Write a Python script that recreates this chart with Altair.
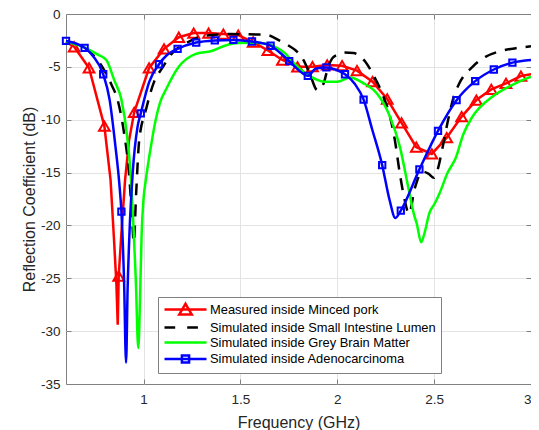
import altair as alt
import pandas as pd

# ---------------- data ----------------
names = [
    "Measured inside Minced pork",
    "Simulated inside Small Intestine Lumen",
    "Simulated inside Grey Brain Matter",
    "Simulated inside Adenocarcinoma",
]
colors = ["#ff0000", "#000000", "#00ff00", "#0000ff"]

# measured (red) - marker points
red_mk_f = [0.642, 0.719, 0.798, 0.872, 0.952, 1.029, 1.106, 1.182, 1.259, 1.336,
            1.412, 1.489, 1.566, 1.642, 1.717, 1.795, 1.872, 1.948, 2.025, 2.102,
            2.182, 2.258, 2.332, 2.408, 2.488, 2.565, 2.642, 2.718, 2.795, 2.871, 2.948]
red_mk_db = [-3.1, -5.1, -10.6, -24.8, -9.3, -5.1, -3.3, -2.2, -1.8, -1.8,
             -1.9, -2.0, -2.65, -3.45, -4.35, -5.0, -4.98, -4.82, -4.89, -5.36,
             -6.4, -8.04, -10.3, -12.6, -13.24, -11.7, -9.71, -8.14, -7.13, -6.56, -5.87]
# measured (red) - further line points between markers
red_ln_f = [0.6, 0.83, 0.848, 0.86, 0.867, 0.885, 0.905, 0.925, 3.0]
red_ln_db = [-2.65, -15.7, -21.4, -25.5, -29.4, -21.0, -15.7, -12.0, -5.7]

# simulated small intestine (black dashed)
black_f = [0.6, 0.7, 0.76, 0.80, 0.835, 0.866, 0.90, 0.925, 0.94, 0.95, 0.962, 0.978,
           1.012, 1.055, 1.097, 1.148, 1.216, 1.319, 1.45, 1.60, 1.642, 1.70, 1.75,
           1.795, 1.83, 1.863, 1.897, 1.915, 1.931, 1.95, 1.974, 2.0, 2.034, 2.085,
           2.144, 2.187, 2.238, 2.272, 2.297, 2.323, 2.348, 2.37, 2.40, 2.44, 2.47,
           2.50, 2.52, 2.545, 2.57, 2.6, 2.629, 2.698, 2.765, 2.833, 2.936, 3.0]
black_db = [-2.6, -3.25, -4.3, -5.4, -6.7, -8.1, -11.3, -15.0, -19.0, -21.6, -17.0, -11.9,
            -9.1, -6.4, -5.1, -3.7, -2.8, -2.05, -1.9, -1.95, -2.0, -2.5, -3.0,
            -3.6, -4.5, -5.9, -7.2, -7.0, -6.5, -5.2, -4.2, -3.85, -3.65, -3.7,
            -4.5, -5.8, -7.8, -9.7, -11.9, -15.1, -17.6, -18.9, -16.5, -14.9, -15.1,
            -15.5, -14.6, -12.5, -10.2, -7.9, -6.6, -5.0, -4.05, -3.55, -3.2, -3.05]

# simulated grey brain matter (green)
green_f = [0.6, 0.7, 0.76, 0.808, 0.85, 0.886, 0.915, 0.935, 0.948, 0.96, 0.973, 0.982,
           0.99, 1.0, 1.012, 1.038, 1.063, 1.085, 1.12, 1.182, 1.267, 1.352, 1.42, 1.49,
           1.574, 1.63, 1.676, 1.73, 1.778, 1.863, 1.931, 2.0, 2.067, 2.136, 2.204,
           2.272, 2.323, 2.366, 2.399, 2.41, 2.433, 2.45, 2.476, 2.501, 2.527, 2.57,
           2.612, 2.65, 2.698, 2.8, 2.902, 3.0]
green_db = [-2.6, -3.2, -3.8, -4.35, -6.3, -8.1, -11.5, -15.5, -20.0, -25.0, -31.6, -27.0,
            -21.0, -17.5, -15.7, -12.55, -10.0, -8.4, -7.0, -5.0, -3.8, -3.5, -3.0, -2.75,
            -2.72, -2.8, -3.09, -3.7, -4.67, -5.93, -6.4, -6.4, -6.0, -6.56, -7.5,
            -9.71, -12.55, -16.34, -19.17, -19.8, -21.6, -20.75, -18.8, -18.0, -17.0, -15.0,
            -13.6, -11.4, -9.71, -7.82, -6.72, -5.93]

# simulated adenocarcinoma (blue) - marker points
blue_mk_f = [0.6, 0.696, 0.792, 0.886, 0.986, 1.08, 1.176, 1.272, 1.368, 1.464, 1.56,
             1.656, 1.752, 1.848, 1.944, 2.04, 2.136, 2.232, 2.328, 2.424, 2.52, 2.616,
             2.712, 2.808, 2.904]
blue_mk_db = [-2.55, -3.2, -5.7, -18.7, -9.4, -4.75, -3.3, -2.7, -2.5, -2.45, -2.6,
              -3.0, -4.45, -5.85, -5.05, -5.7, -8.1, -14.3, -18.6, -14.7, -11.05, -8.15,
              -6.35, -5.25, -4.6]
# simulated adenocarcinoma (blue) - further line points
blue_ln_f = [0.74, 0.825, 0.855, 0.875, 0.9, 0.91, 0.918, 0.927, 0.944, 0.969, 1.03,
             1.12, 1.70, 1.80, 1.89, 1.99, 2.09, 2.18, 2.27, 2.30, 3.0]
blue_ln_db = [-4.0, -8.1, -12.5, -16.0, -25.5, -33.0, -26.0, -21.0, -15.1, -10.7, -6.4,
              -3.9, -3.6, -5.3, -5.15, -5.25, -6.6, -10.9, -17.6, -19.3, -4.35]

x_ticks = [1, 1.5, 2, 2.5, 3]
y_ticks = [-35, -30, -25, -20, -15, -10, -5, 0]

# legend symbol shapes (line with marker) and dashes
leg_shapes = [
    "M-3.5,0H3.5M0,-0.95L1.05,0.85L-1.05,0.85Z",
    "M-3.5,0H3.5",
    "M-3.5,0H3.5",
    "M-3.5,0H3.5M-0.6,-0.6H0.6V0.6H-0.6Z",
]
leg_dash = [[1, 0], [10.7, 12], [1, 0], [1, 0]]

# ---------------- tables ----------------
def frame(f, db):
    return pd.DataFrame({"f": f, "db": db}).sort_values("f")

red_line_df = frame(red_mk_f + red_ln_f, red_mk_db + red_ln_db)
red_mk_df = frame(red_mk_f, red_mk_db)
black_df = frame(black_f, black_db)
green_df = frame(green_f, green_db)
blue_line_df = frame(blue_mk_f + blue_ln_f, blue_mk_db + blue_ln_db)
blue_mk_df = frame(blue_mk_f, blue_mk_db)
legend_df = pd.DataFrame({"series": names})

# ---------------- styling ----------------
FONT = "Liberation Sans"
TXT = "#262626"
EDGE = "#808080"
GRID = "#e3e3e3"

xs = alt.Scale(domain=[0.6, 3.0], nice=False, zero=False)
ys = alt.Scale(domain=[-35, 0], nice=False, zero=False)

x_main = alt.Axis(
    orient="bottom", values=x_ticks, labelExpr="datum.value + ''", labelFlush=False,
    labelOverlap=False, grid=True,
    labelAlign={"condition": {"test": "datum.value >= 3", "value": "right"}, "value": "center"},
    gridColor={"condition": {"test": "datum.value >= 3", "value": "transparent"}, "value": GRID},
    domain=False, ticks=False, labelPadding=8, labelFontSize=13.5, labelColor=TXT,
    labelFont=FONT, title="Frequency (GHz)", titleFontSize=16, titleFont=FONT,
    titleFontWeight="normal", titleColor=TXT, titleY=43, titleBaseline="alphabetic",
)
y_main = alt.Axis(
    orient="left", values=y_ticks, labelExpr="datum.value + ''", labelOverlap=False,
    grid=True,
    gridColor={"condition": {"test": "datum.value <= -35 || datum.value >= 0", "value": "transparent"}, "value": GRID},
    domain=False, ticks=False, labelPadding=6, labelFontSize=13.5, labelColor=TXT,
    labelFont=FONT, title="Reflection Coefficient (dB)", titleFontSize=16, titleFont=FONT,
    titleFontWeight="normal", titleColor=TXT, titleX=-31.5, titleY=185, titleAngle=270,
    titleBaseline="alphabetic",
)


def tick_axis(orient, vals):
    return alt.Axis(orient=orient, values=vals, labels=False, domain=False, grid=False,
                    ticks=True, tickSize=5, tickColor=EDGE, tickWidth=1, offset=-5, title=None)


x_in = [1, 1.5, 2, 2.5]
y_in = [-30, -25, -20, -15, -10, -5]


def enc(xaxis=None, yaxis=None):
    return dict(x=alt.X("f:Q", scale=xs, axis=xaxis), y=alt.Y("db:Q", scale=ys, axis=yaxis))


red_line = alt.Chart(red_line_df).mark_line(color=colors[0], strokeWidth=2.5).encode(
    **enc(x_main, y_main))
red_pts = alt.Chart(red_mk_df).mark_point(
    shape="triangle-up", size=115, filled=False, color=colors[0], strokeWidth=2, opacity=1
).encode(**enc(tick_axis("bottom", x_in), tick_axis("left", y_in)))
black_line = alt.Chart(black_df).mark_line(
    color=colors[1], strokeWidth=2.5, strokeDash=[12, 9], interpolate="monotone"
).encode(**enc(tick_axis("top", x_in), tick_axis("right", y_in)))
green_line = alt.Chart(green_df).mark_line(
    color=colors[2], strokeWidth=2.5, interpolate="monotone").encode(**enc())
blue_line = alt.Chart(blue_line_df).mark_line(
    color=colors[3], strokeWidth=2.5, interpolate="monotone").encode(**enc())
blue_pts = alt.Chart(blue_mk_df).mark_point(
    shape="square", size=40, filled=False, color=colors[3], strokeWidth=2, opacity=1
).encode(**enc())

leg = dict(
    title=None, orient="none", legendX=92, legendY=283, direction="vertical",
    labelFont=FONT, labelFontSize=12.9, labelColor="#000000", labelLimit=0,
    symbolSize=144, symbolStrokeWidth=2.5, symbolOffset=15, labelOffset=17,
    rowPadding=-0.5, padding=5, strokeColor=EDGE, fillColor="#ffffff", cornerRadius=0,
)
legend_layer = alt.Chart(legend_df).mark_point(filled=False, strokeWidth=2.5, opacity=1).encode(
    x=alt.X("f:Q", scale=xs, axis=None),
    y=alt.Y("db:Q", scale=ys, axis=None),
    color=alt.Color("series:N", scale=alt.Scale(domain=names, range=colors), legend=alt.Legend(**leg)),
    shape=alt.Shape("series:N", scale=alt.Scale(domain=names, range=leg_shapes), legend=alt.Legend(**leg)),
    strokeDash=alt.StrokeDash("series:N", scale=alt.Scale(domain=names, range=leg_dash), legend=alt.Legend(**leg)),
)

chart = alt.layer(
    red_line, red_pts, black_line, green_line, blue_line, blue_pts, legend_layer
).resolve_axis(x="independent", y="independent").properties(
    width=465, height=370,
    autosize=alt.AutoSizeParams(type="none"),
    padding={"left": 58, "top": 6, "right": 0, "bottom": 46},
    background="#ffffff",
).configure_view(stroke=EDGE, strokeWidth=1)

chart.save("out.html", embed_options={"renderer": "svg", "actions": False})
